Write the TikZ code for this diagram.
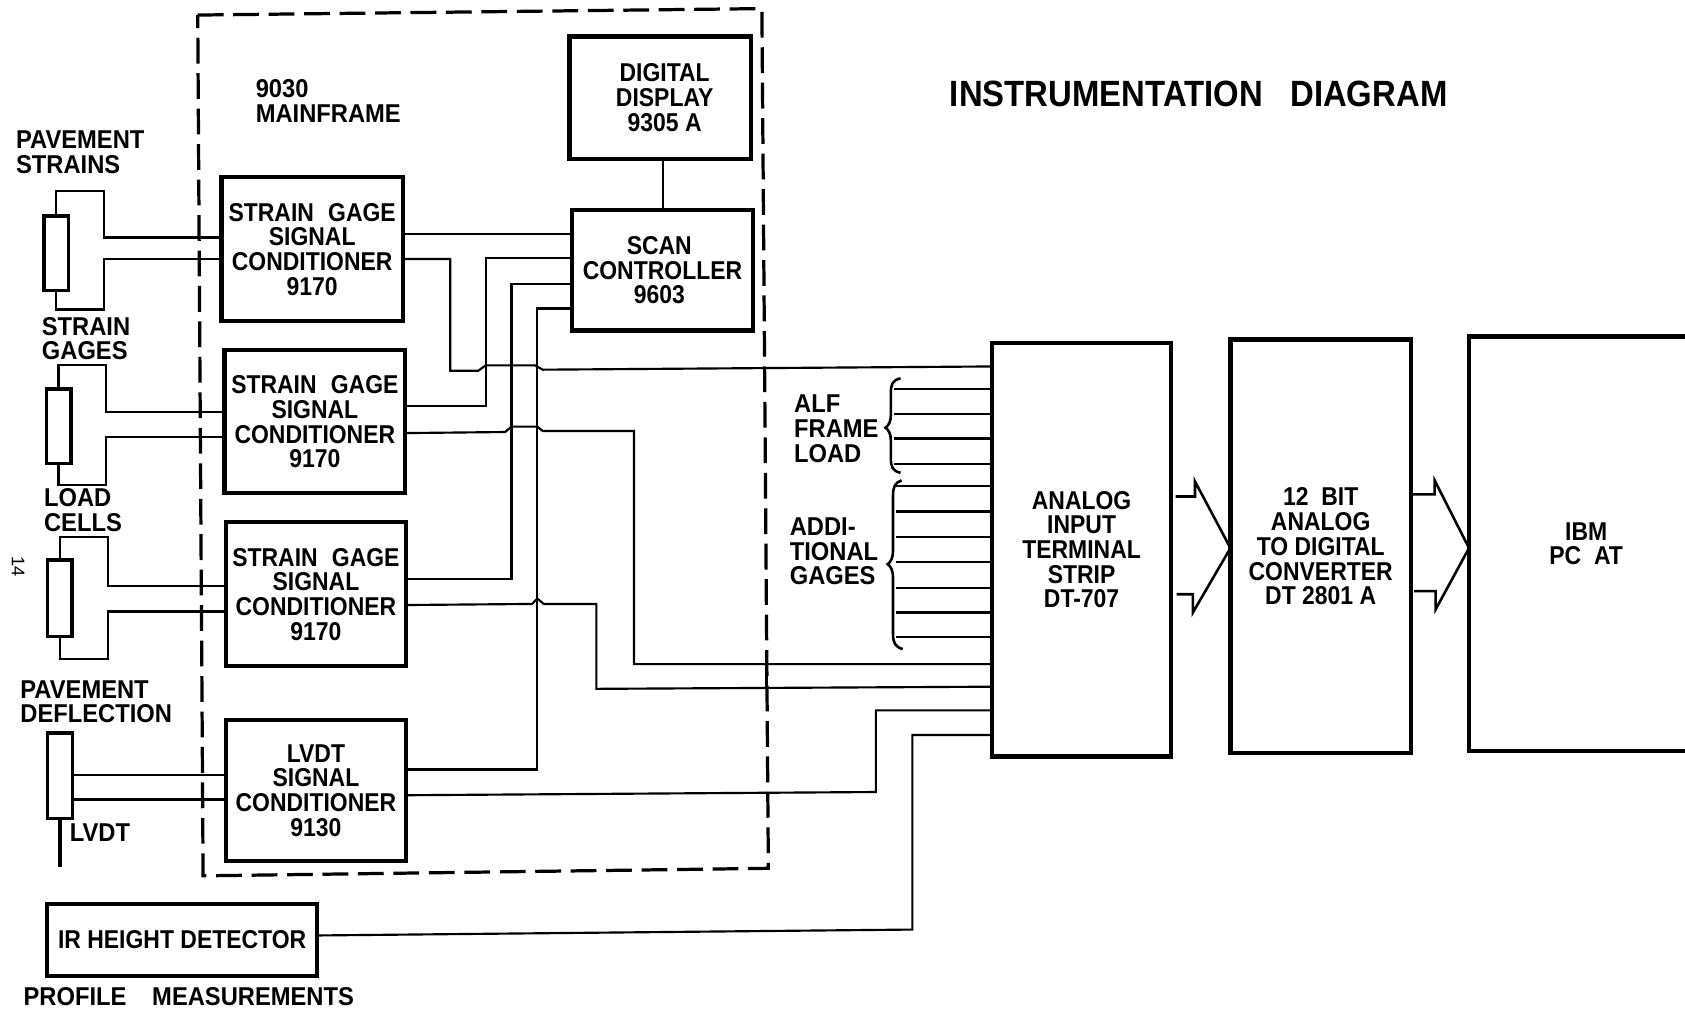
\documentclass[tikz,border=0pt]{standalone}
\usepackage{fontspec}
\newfontfamily\dlab{Liberation Sans}[FakeStretch=0.92]
\newfontfamily\blab{Liberation Sans}[FakeStretch=0.89]
\newfontfamily\tlab{Liberation Sans}[FakeStretch=0.90]
\newfontfamily\plab{Liberation Sans}
\usetikzlibrary{positioning}
\tikzset{
  x=0.5pt,y=-0.5pt,
  box/.style={draw=black,line width=2pt,fill=none,inner sep=0pt,outer sep=0pt,anchor=center,align=center,
     font=\blab\bfseries\fontsize{12}{11.5}\selectfont},
  lab/.style={inner sep=0pt,outer sep=0pt,align=left,anchor=west,font=\dlab\bfseries\fontsize{12}{11.5}\selectfont},
  gage/.style={draw=black,line width=1.5pt,inner sep=0pt,outer sep=0pt,minimum width=11.5pt,anchor=center},
  wire/.style={draw=black,line width=1pt,line join=miter},
  frame/.style={draw=black,line width=1.5pt,dash pattern=on 12pt off 4.5pt},
  bigarrow/.style={draw=black,line width=1.2pt,line join=miter}
}
\newcommand{\sgtext}{STRAIN\hspace{0.55em}GAGE\\SIGNAL\\CONDITIONER\\9170}
\begin{document}
\begin{tikzpicture}
\clip (0,0) rectangle (1568,939);
\fill[white] (0,0) rectangle (1568,939);

% boxes
\node[box,minimum width=84.5pt,minimum height=57pt] (disp) at (614.5,91) {\hspace*{4pt}DIGITAL\\\hspace*{4pt}DISPLAY\\\hspace*{4pt}9305 A};
\node[box,minimum width=84.5pt,minimum height=56pt] (scan) at (616.5,251.5) {SCAN\hspace*{3pt}\\CONTROLLER\hspace*{3pt}\\9603\hspace*{3pt}};
\node[box,minimum width=84.5pt,minimum height=67pt] (sg1) at (290.5,232) {\sgtext};
\node[box,minimum width=84pt,minimum height=66.5pt] (sg2) at (293,392.5) {\sgtext};
\node[box,minimum width=84pt,minimum height=67pt] (sg3) at (294,553) {\sgtext};
\node[box,minimum width=84pt,minimum height=65.5pt] (lv) at (294,735.5) {LVDT\\SIGNAL\\CONDITIONER\\9130};
\node[box,minimum width=125.5pt,minimum height=33.5pt] (ir) at (169.5,874.5) {IR HEIGHT DETECTOR};
\node[box,minimum width=83.5pt,minimum height=192.5pt] (analog) at (1006.5,511.5) {ANALOG\\INPUT\\TERMINAL\\STRIP\\DT-707};
\node[box,minimum width=84pt,minimum height=192.5pt] (adc) at (1229,508.5) {12\ \ BIT\\ANALOG\\TO DIGITAL\\CONVERTER\\DT 2801 A};
\node[box,minimum width=109pt,minimum height=193pt] (ibm) at (1476,506) {IBM\\PC\ \ AT};

% gages
\node[gage,minimum height=34.5pt] (g1) at (52.5,235.5) {};
\node[gage,minimum height=34.5pt] (g2) at (54.5,396.5) {};
\node[gage,minimum height=35.5pt] (g3) at (55.5,556.5) {};
\node[gage,minimum height=40pt] (g4) at (56,722) {};

% mainframe frame
\coordinate (f1) at (184,14);
\coordinate (f2) at (709,8);
\coordinate (f3) at (715,808);
\coordinate (f4) at (189,815);
\draw[frame] (f1) -- (f2) -- (f3) -- (f4) -- cycle;
\coordinate (fa) at (713,618);
\coordinate (fb) at (713,640);
\draw[draw=black,line width=1.5pt] (fa) -- (fb);

% gage wiring
\draw[wire] (g1.north) -- ++(0,-23) -- ++(44,0) -- ++(0,43) -- (sg1.west |- 0,221);
\draw[wire] (g1.south) -- ++(0,18) -- ++(44,0) -- ++(0,-47) -- (sg1.west |- 0,241);
\draw[wire] (g2.north) -- ++(0,-22) -- ++(44,0) -- ++(0,43) -- (sg2.west |- 0,383);
\draw[wire] (g2.south) -- ++(0,20) -- ++(44,0) -- ++(0,-44) -- (sg2.west |- 0,407);
\draw[wire] (g3.north) -- ++(0,-21) -- ++(45,0) -- ++(0,45) -- (sg3.west |- 0,545);
\draw[wire] (g3.south) -- ++(0,21) -- ++(45,0) -- ++(0,-44) -- (sg3.west |- 0,569);
\draw[wire] (g4.east |- 0,721) -- (lv.west |- 0,721);
\draw[wire] (g4.east |- 0,744) -- (lv.west |- 0,744);
\coordinate (rod) at (56,807);
\draw[draw=black,line width=2pt] (g4.south) -- (rod);

% display to scan
\draw[wire,line width=1.3pt] (disp.south -| 617,0) -- (scan.north -| 617,0);

% conditioners to scan controller
\draw[wire] (sg1.east |- 0,218) -- (scan.west |- 0,218);
\draw[wire] (sg2.east |- 0,378) -- (452,378) -- (452,240) -- (scan.west |- 0,240);
\draw[wire] (sg3.east |- 0,539) -- (476,539) -- (476,264) -- (scan.west |- 0,264);
\draw[wire] (lv.east |- 0,716) -- (500,716) -- (500,287) -- (scan.west |- 0,287);

% conditioners to terminal strip
\draw[wire] (sg1.east |- 0,241) -- (419,241) -- (419,345) -- (445,345) -- (452,340) -- (498,340) -- (505,344) -- (analog.west |- 0,341);
\draw[wire] (sg2.east |- 0,403) -- (470,402) -- (476,397) -- (500,397) -- (505,401) -- (590,401) -- (590,618) -- (analog.west |- 0,618);
\draw[wire] (sg3.east |- 0,563) -- (495,562) -- (500,557) -- (506,562) -- (555,562) -- (555,641) -- (analog.west |- 0,639);
\draw[wire] (lv.east |- 0,740) -- (815,737) -- (815,661) -- (analog.west |- 0,661);
\draw[wire] (ir.east) ++(0,-4) -- (849,865) -- (849,684) -- (analog.west |- 0,684);

% terminal stubs
\foreach \n/\yy in {a/362,b/385,c/408,d/432}
  {\coordinate (s\n) at (832,\yy); \draw[wire] (s\n) -- (analog.west |- s\n);}
\foreach \n/\yy in {e/452,f/476,g/500,h/523,i/547,j/570,k/593}
  {\coordinate (s\n) at (834,\yy); \draw[wire] (s\n) -- (analog.west |- s\n);}

% braces
\coordinate (b1a) at (838,352); \coordinate (b1m) at (824,398); \coordinate (b1b) at (838,440);
\draw[wire,line width=1.2pt] (b1a) .. controls (830,354) and (829,358) .. (829,366) -- (829,386) .. controls (829,392) and (827,396) .. (b1m)
   .. controls (827,400) and (829,404) .. (829,410) -- (829,426) .. controls (829,434) and (830,438) .. (b1b);
\coordinate (b2a) at (839,447); \coordinate (b2m) at (826,525); \coordinate (b2b) at (840,604);
\draw[wire,line width=1.2pt] (b2a) .. controls (833,449) and (831,453) .. (831,461) -- (831,512) .. controls (831,519) and (829,523) .. (b2m)
   .. controls (829,527) and (831,531) .. (831,538) -- (831,590) .. controls (831,598) and (833,602) .. (b2b);

% fat arrows
\coordinate (a1t) at (1112,448); \coordinate (a1b) at (1110,570);
\coordinate (a2t) at (1335,447); \coordinate (a2b) at (1336,567);
\draw[bigarrow] (analog.east |- 0,462) ++(4,0) -- (1112,462) -- (a1t) -- (adc.west |- 0,510) -- (a1b) -- (1110,553) -- (1095,553);
\draw[bigarrow] (adc.east |- 0,460) ++(2,0) -- (1335,460) -- (a2t) -- (ibm.west |- 0,510) -- (a2b) -- (1336,550) -- (1316,550);

% labels
\node[lab] (t1) at (238,94) {9030\\MAINFRAME};
\node[lab] (t2) at (15,142) {PAVEMENT\\STRAINS};
\node[lab] (t3) at (39,315) {STRAIN\\GAGES};
\node[lab] (t4) at (41,475) {LOAD\\CELLS};
\node[lab] (t5) at (19,653) {PAVEMENT\\DEFLECTION};
\node[lab] (t6) at (65,775) {LVDT};
\node[lab] (t7) at (22,927) {PROFILE\hspace{1em}MEASUREMENTS};
\node[lab] (t8) at (739,399) {ALF\\FRAME\\LOAD};
\node[lab] (t9) at (735,513) {ADDI-\\TIONAL\\GAGES};
\node[lab,font=\tlab\bfseries\fontsize{17}{20}\selectfont] (title) at (884,87) {INSTRUMENTATION\ \ \ DIAGRAM};
\node[inner sep=0pt,rotate=-90,font=\plab\fontsize{8.5}{10}\selectfont] (pg) at (17,527) {14};
\end{tikzpicture}
\end{document}
